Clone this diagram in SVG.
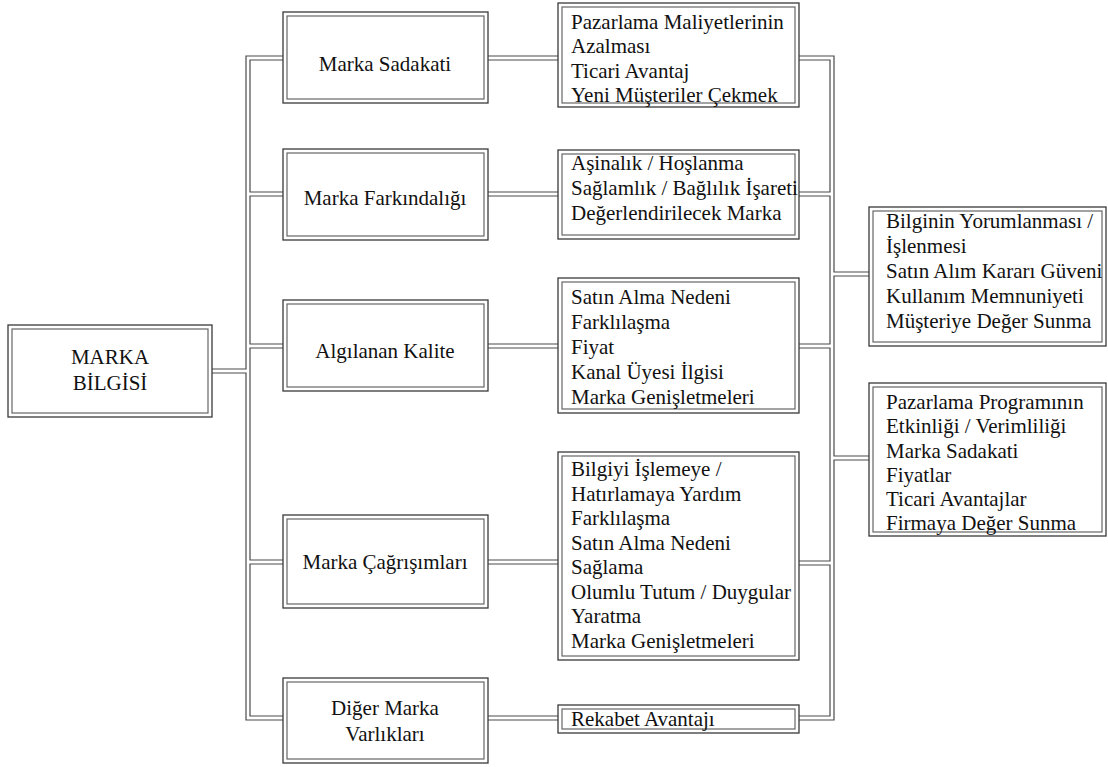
<svg xmlns="http://www.w3.org/2000/svg" width="1108" height="767" viewBox="0 0 1108 767" font-family="'Liberation Serif', serif">
<style>
.bg{fill:#fff}
.out{fill:#fff;stroke:#3a3a3a;stroke-width:1.3}
.in{fill:none;stroke:#666;stroke-width:1.2}
.cd{fill:none;stroke:#4a4a4a;stroke-width:5.2;stroke-linejoin:miter}
.cw{fill:none;stroke:#fff;stroke-width:2.8;stroke-linejoin:miter}
text{font-family:'Liberation Serif', serif;font-size:21px;fill:#111}
.c{text-anchor:middle}
</style>
<rect class="bg" x="0" y="0" width="1108" height="767"/>
<g id="connectors">
<g class="cd">
<path d="M212 371H248"/>
<path d="M283 58H248V718H283"/>
<path d="M248 194H283M248 346H283M248 562H283"/>
<path d="M488 58H558M488 194H558M488 346H558M488 562H558M488 718H558"/>
<path d="M799 58H832V718H799"/>
<path d="M799 194H832M799 346H832M799 563H832M832 274H869M832 458H869"/>
</g>
<g class="cw">
<path d="M212 371H248"/>
<path d="M283 58H248V718H283"/>
<path d="M248 194H283M248 346H283M248 562H283"/>
<path d="M488 58H558M488 194H558M488 346H558M488 562H558M488 718H558"/>
<path d="M799 58H832V718H799"/>
<path d="M799 194H832M799 346H832M799 563H832M832 274H869M832 458H869"/>
</g>
</g>
<g id="marka-bilgisi">
<rect class="out" x="8" y="325" width="204" height="92"/>
<rect class="in" x="12" y="329" width="196" height="84"/>
<text class="c" x="110" y="364">MARKA</text>
<text class="c" x="110" y="390">BİLGİSİ</text>
</g>
<g id="marka-sadakati">
<rect class="out" x="283" y="12" width="205" height="91"/>
<rect class="in" x="287" y="16" width="197" height="83"/>
<text class="c" x="385" y="71">Marka Sadakati</text>
</g>
<g id="marka-farkindaligi">
<rect class="out" x="283" y="149" width="205" height="91"/>
<rect class="in" x="287" y="153" width="197" height="83"/>
<text class="c" x="385" y="205">Marka Farkındalığı</text>
</g>
<g id="algilanan-kalite">
<rect class="out" x="283" y="300" width="205" height="91"/>
<rect class="in" x="287" y="304" width="197" height="83"/>
<text class="c" x="385" y="358">Algılanan Kalite</text>
</g>
<g id="marka-cagrisimlari">
<rect class="out" x="283" y="515" width="205" height="93"/>
<rect class="in" x="287" y="519" width="197" height="85"/>
<text class="c" x="385" y="569">Marka Çağrışımları</text>
</g>
<g id="diger-marka">
<rect class="out" x="283" y="678" width="205" height="85"/>
<rect class="in" x="287" y="682" width="197" height="77"/>
<text class="c" x="385" y="715">Diğer Marka</text>
<text class="c" x="385" y="741">Varlıkları</text>
</g>
<g id="sonuc-1">
<rect class="out" x="558" y="3" width="241" height="104"/>
<rect class="in" x="562" y="7" width="233" height="96"/>
<text x="571" y="29">Pazarlama Maliyetlerinin</text>
<text x="571" y="53">Azalması</text>
<text x="571" y="77.5">Ticari Avantaj</text>
<text x="571" y="101.5">Yeni Müşteriler Çekmek</text>
</g>
<g id="sonuc-2">
<rect class="out" x="558" y="150" width="241" height="89"/>
<rect class="in" x="562" y="154" width="233" height="81"/>
<text x="571" y="170">Aşinalık / Hoşlanma</text>
<text x="571" y="195">Sağlamlık / Bağlılık İşareti</text>
<text x="571" y="220">Değerlendirilecek Marka</text>
</g>
<g id="sonuc-3">
<rect class="out" x="558" y="278" width="241" height="135"/>
<rect class="in" x="562" y="282" width="233" height="127"/>
<text x="571" y="304">Satın Alma Nedeni</text>
<text x="571" y="329">Farklılaşma</text>
<text x="571" y="354">Fiyat</text>
<text x="571" y="379">Kanal Üyesi İlgisi</text>
<text x="571" y="404">Marka Genişletmeleri</text>
</g>
<g id="sonuc-4">
<rect class="out" x="558" y="452" width="241" height="208"/>
<rect class="in" x="562" y="456" width="233" height="200"/>
<text x="571" y="476">Bilgiyi İşlemeye /</text>
<text x="571" y="500.5">Hatırlamaya Yardım</text>
<text x="571" y="525">Farklılaşma</text>
<text x="571" y="549.5">Satın Alma Nedeni</text>
<text x="571" y="574">Sağlama</text>
<text x="571" y="598.5">Olumlu Tutum / Duygular</text>
<text x="571" y="623">Yaratma</text>
<text x="571" y="647.5">Marka Genişletmeleri</text>
</g>
<g id="sonuc-5">
<rect class="out" x="558" y="705" width="241" height="28"/>
<rect class="in" x="562" y="709" width="233" height="20"/>
<text x="571" y="726">Rekabet Avantajı</text>
</g>
<g id="musteri-degeri">
<rect class="out" x="869" y="207" width="237" height="139"/>
<rect class="in" x="873" y="211" width="229" height="131"/>
<text x="886" y="228">Bilginin Yorumlanması /</text>
<text x="886" y="253">İşlenmesi</text>
<text x="886" y="278">Satın Alım Kararı Güveni</text>
<text x="886" y="303">Kullanım Memnuniyeti</text>
<text x="886" y="328">Müşteriye Değer Sunma</text>
</g>
<g id="firma-degeri">
<rect class="out" x="869" y="383" width="237" height="153"/>
<rect class="in" x="873" y="387" width="229" height="145"/>
<text x="886" y="409">Pazarlama Programının</text>
<text x="886" y="433">Etkinliği / Verimliliği</text>
<text x="886" y="458">Marka Sadakati</text>
<text x="886" y="482">Fiyatlar</text>
<text x="886" y="506">Ticari Avantajlar</text>
<text x="886" y="530">Firmaya Değer Sunma</text>
</g>
</svg>
